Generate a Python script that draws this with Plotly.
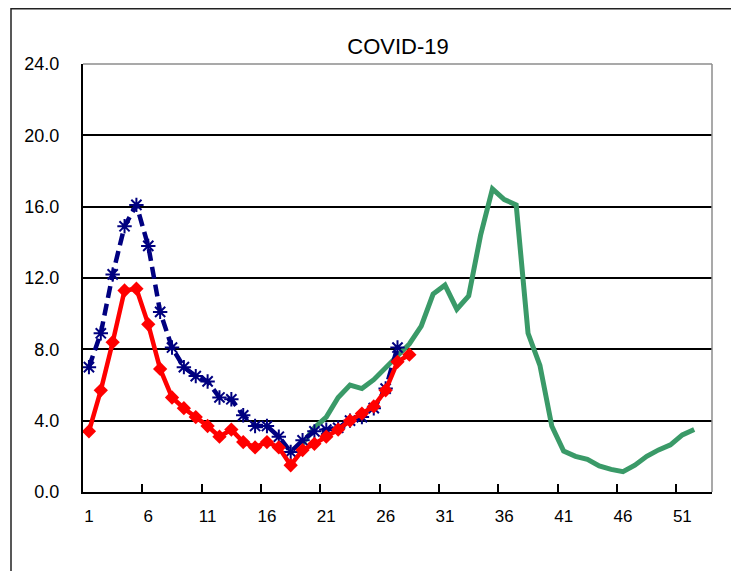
import plotly.graph_objects as go

weeks_red = list(range(1, 29))
red_vals = [3.4, 5.7, 8.4, 11.3, 11.4, 9.4, 6.9, 5.3, 4.7, 4.2, 3.7, 3.1, 3.5, 2.8,
            2.5, 2.8, 2.5, 1.5, 2.35, 2.7, 3.1, 3.5, 4.0, 4.4, 4.8, 5.7, 7.3, 7.7]

weeks_blue = list(range(1, 28))
blue_vals = [7.0, 8.9, 12.2, 14.9, 16.1, 13.8, 10.1, 8.1, 7.0, 6.5, 6.2, 5.3, 5.2, 4.3,
             3.7, 3.7, 3.1, 2.25, 2.9, 3.4, 3.5, 3.6, 4.0, 4.2, 4.7, 5.8, 8.1]

weeks_green = list(range(19, 53))
green_vals = [2.7, 3.6, 4.2, 5.3, 6.0, 5.8, 6.3, 7.0, 7.7, 8.3, 9.3, 11.1, 11.6, 10.25,
              11.0, 14.4, 17.0, 16.4, 16.1, 8.9, 7.1, 3.7, 2.3, 2.0, 1.83, 1.46, 1.27,
              1.14, 1.5, 2.0, 2.36, 2.64, 3.2, 3.5]

x_label_vals = list(range(1, 52, 5))
x_tick_marks = [v + 4.5 for v in range(1, 47, 5)]
y_tick_vals = [0, 4, 8, 12, 16, 20, 24]
y_tick_text = ["0.0", "4.0", "8.0", "12.0", "16.0", "20.0", "24.0"]

OFF = 8  # page body offset
L, R, T, B = 83 - OFF, 712 - OFF, 64 - OFF, 492 - OFF
W, H = 739, 571
PW, PH = R - L, B - T

fig = go.Figure()
fig.add_trace(go.Scatter(x=weeks_green, y=green_vals, mode="lines",
                         line=dict(color="#3A9A68", width=5), showlegend=False))
fig.add_trace(go.Scatter(x=weeks_blue, y=blue_vals, mode="lines+markers",
                         line=dict(color="#000080", width=4.5, dash="12px,6px"),
                         marker=dict(symbol="asterisk-open", size=12,
                                     line=dict(color="#000080", width=2)),
                         showlegend=False))
fig.add_trace(go.Scatter(x=weeks_red, y=red_vals, mode="lines+markers",
                         line=dict(color="#FF0000", width=4.5),
                         marker=dict(symbol="diamond", size=11, color="#FF0000"),
                         showlegend=False))
fig.add_trace(go.Scatter(x=[None], y=[None], xaxis="x2", showlegend=False))

font_main = "Liberation Sans, Arial, sans-serif"

fig.update_layout(
    width=W, height=H,
    margin=dict(l=L, r=W - R, t=T, b=H - B),
    paper_bgcolor="white", plot_bgcolor="white",
    title=dict(text="COVID-19", font=dict(family=font_main, size=22, color="black"),
               x=(398 - OFF) / W, xref="container", xanchor="center",
               y=1 - (46.5 - OFF) / H, yref="container", yanchor="middle"),
    xaxis=dict(range=[0.5, 53.5], tickmode="array", tickvals=x_tick_marks,
               ticks="inside", ticklen=8, tickwidth=1.5, tickcolor="black",
               showticklabels=False, showgrid=False, zeroline=False,
               showline=True, linecolor="black", linewidth=2),
    xaxis2=dict(range=[0.5, 53.5], overlaying="x", anchor="y", side="bottom",
                tickmode="array", tickvals=x_label_vals, ticks="",
                showticklabels=True, showgrid=False, zeroline=False, showline=False,
                tickfont=dict(family="Liberation Sans Narrow, " + font_main, size=17, color="black"),
                ticklabelstandoff=12),
    yaxis=dict(range=[0, 24], tickmode="array", tickvals=y_tick_vals, ticktext=y_tick_text,
               ticks="", showgrid=True, gridcolor="black", gridwidth=1.5,
               zeroline=False, showline=True, linecolor="black", linewidth=2,
               tickfont=dict(family=font_main, size=18, color="black"),
               ticklabelstandoff=18),
    shapes=[
        dict(type="line", xref="paper", yref="paper", x0=1, x1=1, y0=0, y1=1,
             line=dict(color="#8C8C8C", width=1.5), layer="above"),
        dict(type="line", xref="paper", yref="paper", x0=0, x1=1, y0=1, y1=1,
             line=dict(color="#8C8C8C", width=1.5), layer="above"),
        dict(type="rect", xref="paper", yref="paper",
             x0=(11 - OFF - L) / PW, x1=(733 - OFF - L) / PW,
             y0=(B - 600) / PH, y1=(B - 0.8) / PH,
             line=dict(color="#222222", width=1.5), fillcolor="rgba(0,0,0,0)"),
    ],
)

fig.write_html("out.html")
